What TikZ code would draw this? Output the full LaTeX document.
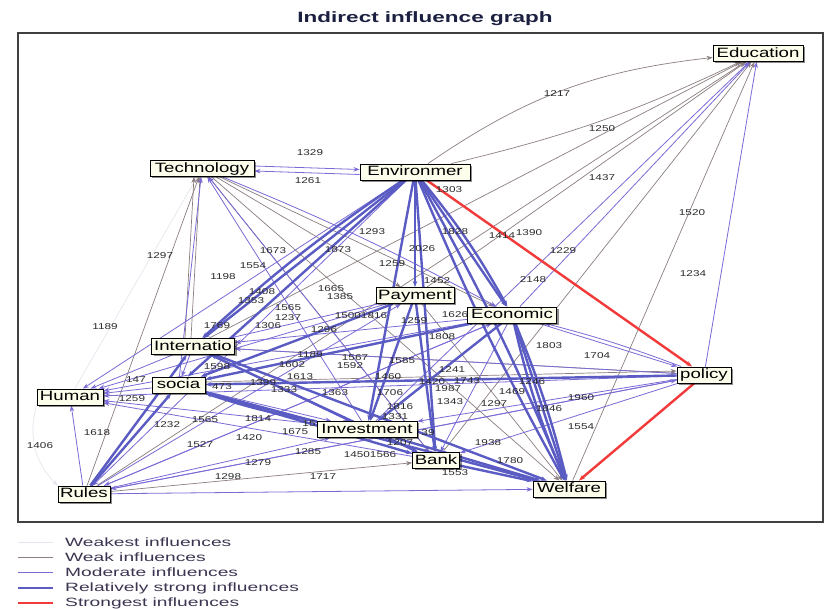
\documentclass[tikz,border=0pt]{standalone}
\usepackage{fontspec}
\setmainfont{Liberation Sans}
\newfontfamily\nodefont[FakeStretch=1.38]{Liberation Sans}
\newfontfamily\labfont[FakeStretch=1.38]{Liberation Sans}
\newfontfamily\legfont[FakeStretch=1.6]{Liberation Sans}
\newfontfamily\titfont[FakeStretch=1.5]{Liberation Sans}
\usetikzlibrary{arrows.meta,shadows}
\definecolor{weakc}{HTML}{8C7E7E}
\definecolor{modc}{HTML}{7A6AD6}
\definecolor{strc}{HTML}{5B5BC4}
\definecolor{redc}{HTML}{F23A3A}
\definecolor{wkstc}{HTML}{E4E4EE}
\definecolor{labc}{HTML}{2A2A2A}
\definecolor{boxc}{HTML}{FDFDEB}
\definecolor{legc}{HTML}{3C3450}
\definecolor{titc}{HTML}{1C2040}
\definecolor{framec}{HTML}{404040}
\pgfdeclarelayer{bgl}
\pgfdeclarelayer{edgel}
\pgfdeclarelayer{labl}
\pgfsetlayers{bgl,edgel,labl,main}
\begin{document}
\begin{tikzpicture}[x=1pt,y=-1pt,
  box/.style={draw=black, line width=0.9pt, fill=boxc,
    font=\nodefont\fontsize{13.5}{14}\selectfont,
    minimum height=16pt, inner xsep=1pt, inner ysep=0pt,
    text height=9.8pt, text depth=2.6pt,
    drop shadow={shadow xshift=2pt, shadow yshift=-2pt, opacity=0.45, fill=black}},
  arr/.style={-{Stealth[length=6pt,width=4.5pt]}},
  weakest/.style={arr, draw=wkstc, line width=0.6pt},
  weak/.style={arr, draw=weakc, line width=0.7pt},
  moder/.style={arr, draw=modc, line width=0.8pt},
  strong/.style={arr, draw=strc, line width=2.4pt},
  strongest/.style={arr, draw=redc, line width=2.4pt},
  lab/.style={font=\labfont\fontsize{8.5}{9}\selectfont, text=labc, inner sep=0.5pt},
  legtext/.style={font=\legfont\fontsize{12}{13}\selectfont, text=legc, anchor=west, inner sep=0pt}
]
\useasboundingbox (0,0) rectangle (825,609);
\begin{pgfonlayer}{bgl}
  \fill[white] (0,0) rectangle (825,609);
  \draw[framec, line width=1.1pt] (18,33) rectangle (823,522);
\end{pgfonlayer}

\node[font=\titfont\bfseries\fontsize{15}{16}\selectfont, text=titc] (title) at (425,19) {Indirect influence graph};

% nodes
\node[box, minimum width=90pt]  (Edu)   at (758,53.5)  {Education};
\node[box, minimum width=104pt] (Tech)  at (202,168.5) {Technology};
\node[box, minimum width=110pt] (Env)   at (415,172)   {Environmer};
\node[box, minimum width=78pt]  (Pay)   at (415,295.5) {Payment};
\node[box, minimum width=89pt]  (Eco)   at (512,315)   {Economic};
\node[box, minimum width=83pt]  (Int)   at (193,346.5) {Internatio};
\node[box, minimum width=53pt]  (Soc)   at (178.5,385) {socia};
\node[box, minimum width=66pt]  (Hum)   at (70,397)    {Human};
\node[box, minimum width=54pt]  (Pol)   at (704,375)   {policy};
\node[box, minimum width=100pt] (Inv)   at (367,429.5) {Investment};
\node[box, minimum width=47pt]  (Bank)  at (436,460.5) {Bank};
\node[box, minimum width=52pt]  (Rules) at (84,494)    {Rules};
\node[box, minimum width=72pt]  (Wel)   at (569,489)   {Welfare};

\begin{pgfonlayer}{edgel}
% weakest
\draw[weakest] (Hum) -- (Tech);
\draw[weakest] (Hum.south west) to[bend right=30] (Rules.north west);
% weak
\draw[weak] (Env) to[bend left=14] (Edu);
\draw[weak] (Env) to[bend right=6] (Edu);
\draw[weak] (Int) -- (Edu);
\draw[weak] (Rules) -- (Edu);
\draw[weak] (Pay) -- (Edu);
\draw[weak] (Bank) -- (Edu);
\draw[weak] (Wel) -- (Edu);
\draw[weak] ([xshift=-8pt]Int.north) -- ([xshift=-8pt]Tech.south);
\draw[weak] ([xshift=-2pt]Int.north) -- ([xshift=-2pt]Tech.south);
\draw[weak] (Rules) -- (Tech);
\draw[weak] (Tech) -- (Pay);
\draw[weak] (Tech) -- (Eco);
\draw[weak] (Tech) -- (Wel);
\draw[weak] (Tech) -- (Bank);
\draw[weak] (Int) -- (Pol);
\draw[weak] ([yshift=3pt]Soc.east) -- ([yshift=4pt]Pol.west);
\draw[weak] (Rules) -- (Bank);
\draw[weak] (Pay) -- (Wel);
% moderate
\draw[moder] (Inv) -- (Edu);
\draw[moder] (Eco) -- (Edu);
\draw[moder] (Pol) -- (Edu);
\draw[moder] ([yshift=2.5pt]Tech.east) -- ([yshift=2.5pt]Env.west);
\draw[moder] ([yshift=-2.5pt]Env.west) -- ([yshift=-2.5pt]Tech.east);
\draw[moder] (Inv) -- (Tech);
\draw[moder] (Bank) -- (Tech);
\draw[moder] (Soc) -- (Tech);
\draw[moder] (Tech) to[bend left=3] (Eco);
\draw[moder] (Env) -- (Hum);
\draw[moder] (Env) -- (Rules);
\draw[moder] (Pay) -- (Int);
\draw[moder] (Pay) -- (Hum);
\draw[moder] (Eco) -- (Int);
\draw[moder] (Eco) -- (Bank);
\draw[moder] (Eco) -- (Hum);
\draw[moder] (Eco) -- (Pol);
\draw[moder] (Eco) -- (Rules);
\draw[moder] (Pol) -- (Int);
\draw[moder] (Pol) -- (Hum);
\draw[moder] (Pol) -- (Inv);
\draw[moder] (Pol) -- (Rules);
\draw[moder] (Pol) -- (Bank);
\draw[moder] (Pol) to[bend right=3] (Eco);
\draw[moder] (Int) -- (Hum);
\draw[moder] (Int) -- (Inv);
\draw[moder] (Int) -- (Soc);
\draw[moder] (Soc) -- (Hum);
\draw[moder] (Soc) -- (Inv);
\draw[moder] (Inv) -- (Hum);
\draw[moder] (Inv) -- (Bank);
\draw[moder] (Inv) -- (Int);
\draw[moder] (Bank) -- (Soc);
\draw[moder] (Bank) -- (Hum);
\draw[moder] (Rules) -- (Hum);
\draw[moder] (Rules) -- (Inv);
\draw[moder] (Rules) -- (Wel);
\draw[moder] (Rules) -- (Eco);
\draw[moder] (Rules) -- (Pay);
\draw[moder] (Rules) -- (Pol);
% relatively strong
\draw[strong] (Env) -- (Int);
\draw[strong] (Env) to[bend right=4] (Int);
\draw[strong] (Env) -- (Soc);
\draw[strong] (Env) -- (Pay);
\draw[strong] (Env) -- (Eco);
\draw[strong] (Env) to[bend left=5] (Eco);
\draw[strong] (Env) -- (Inv);
\draw[strong] (Env) -- (Bank);
\draw[strong] (Env) to[bend left=3] (Wel);
\draw[strong] (Env) to[bend right=3] (Wel);
\draw[strong] (Pay) -- (Soc);
\draw[strong] (Pay) -- (Inv);
\draw[strong] (Pay) -- (Bank);
\draw[strong] (Eco) to[bend left=4] (Wel);
\draw[strong] (Eco) -- (Wel);
\draw[strong] (Eco) to[bend right=5] (Wel);
\draw[strong] (Eco) -- (Soc);
\draw[strong] (Eco) -- (Inv);
\draw[strong] (Pol) -- (Soc);
\draw[strong] (Int) -- (Wel);
\draw[strong] (Int) -- (Bank);
\draw[strong] (Soc) -- (Bank);
\draw[strong] (Soc) -- (Wel);
\draw[strong] (Inv) to[bend left=4] (Soc);
\draw[strong] (Inv) -- (Wel);
\draw[strong] (Bank) -- (Wel);
\draw[strong] (Rules) -- (Soc);
\draw[strong] (Rules) -- (Int);
% strongest
\draw[strongest] (Env) -- (Pol);
\draw[strongest] (Pol) -- (Wel);
\end{pgfonlayer}

\begin{pgfonlayer}{labl}
\foreach \x/\y/\t [count=\i] in {
310/153/1329, 308/181/1261, 557/94/1217, 602/129/1250, 602/178/1437,
449/190/1303, 455/232/1828, 502/236/1414, 529/233/1390, 563/251/1229,
692/213/1520, 693/274/1234, 160/256/1297, 273/251/1673, 253/266/1554,
223/277/1198, 372/232/1293, 338/250/1873, 422/249/2026, 392/264/1259,
437/281/1452, 533/280/2148, 331/289/1665, 340/297/1385, 262/292/1408,
251/301/1353, 288/308/1565, 288/318/1237, 268/326/1306, 217/326/1769,
105/327/1189, 361/316/15001816, 414/321/1259, 455/315/1626, 324/330/1296,
442/337/1808, 549/346/1803, 597/356/1704, 310/355/1189, 217/367/1598,
292/365/1602, 300/377/1613, 355/358/1567, 350/366/1592, 402/361/1585,
452/370/1241, 388/377/1460, 432/382/1420, 467/381/1743, 448/389/1987,
450/402/1343, 390/393/1706, 335/393/1363, 400/407/1816, 395/417/1331,
263/383/1399, 284/390/1333, 136/380/147, 222/387/473, 132/399/1259,
167/425/1232, 205/420/1565, 258/419/1814, 295/432/1675, 97/433/1618,
40/446/1406, 200/445/1527, 249/438/1420, 258/463/1279, 228/477/1298,
308/452/1285, 370/455/14501566, 323/477/1717, 400/443/1207, 428/433/39,
309/424/15, 455/473/1553, 488/443/1938, 510/461/1780, 581/427/1554,
549/409/1846, 581/398/1960, 494/404/1297, 512/392/1469, 532/382/1246}
  \node[lab] (L\i) at (\x,\y) {\t};
\end{pgfonlayer}

% legend
\draw[wkstc, line width=1pt] (18,542) -- (53,542);
\draw[weakc, line width=0.8pt] (18,557) -- (53,557);
\draw[modc, line width=1pt] (18,572) -- (53,572);
\draw[strc, line width=2.4pt] (18,588) -- (53,588);
\draw[redc, line width=2.2pt] (18,603) -- (53,603);
\node[legtext] (leg1) at (65,542) {Weakest influences};
\node[legtext] (leg2) at (65,557) {Weak influences};
\node[legtext] (leg3) at (65,572) {Moderate influences};
\node[legtext] (leg4) at (65,588) {Relatively strong influences};
\node[legtext] (leg5) at (65,603) {Strongest influences};
\end{tikzpicture}
\end{document}
